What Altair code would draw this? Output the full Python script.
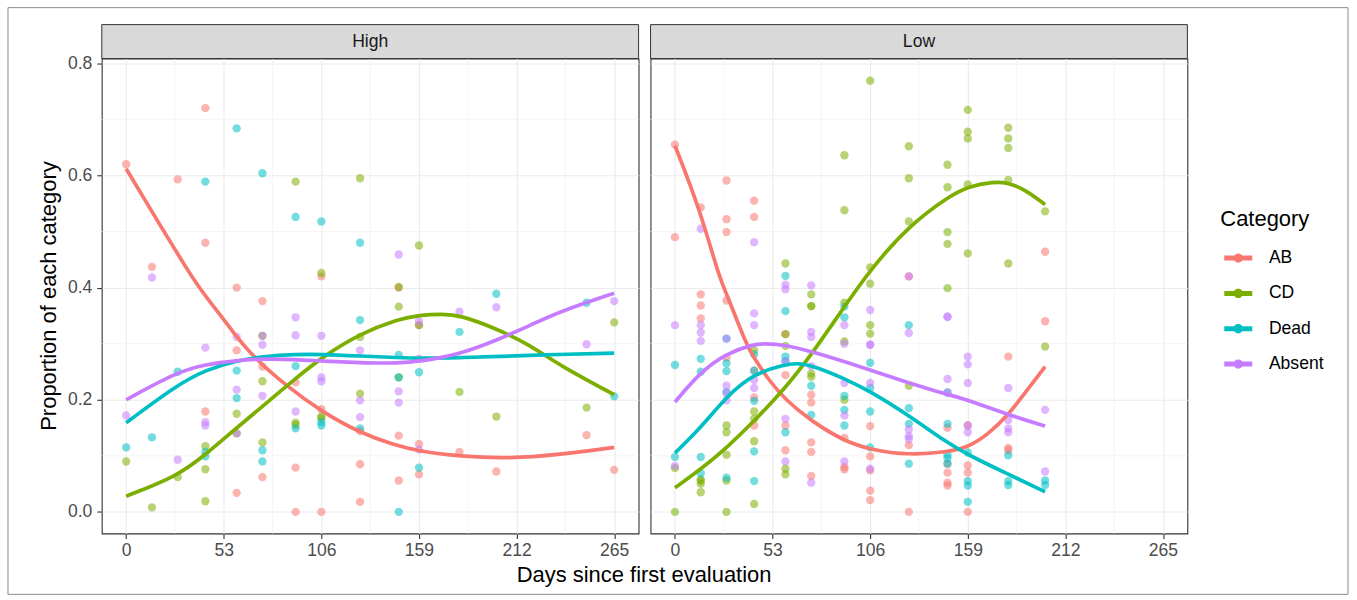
import altair as alt
import pandas as pd

FONT = "Liberation Sans"
CATEGORIES = ["AB", "CD", "Dead", "Absent"]
COLORS = ["#F8766D", "#7CAE00", "#00BFC4", "#C77CFF"]
PANELS = ["High", "Low"]
X_TICKS = [0, 53, 106, 159, 212, 265]
X_MINOR = [26.5, 79.5, 132.5, 185.5, 238.5]
Y_TICKS = [0.0, 0.2, 0.4, 0.6, 0.8]
Y_MINOR = [0.1, 0.3, 0.5, 0.7]
X_TITLE = "Days since first evaluation"
Y_TITLE = "Proportion of each category"
LEGEND_TITLE = "Category"

# ---- observed proportions (day, value) ----
HIGH_AB = [(0, 0.62), (14, 0.437), (28, 0.593), (43, 0.72), (43, 0.48), (43, 0.179),
           (60, 0.40), (60, 0.288), (60, 0.034), (74, 0.376), (74, 0.259), (74, 0.062),
           (92, 0.231), (92, 0.079), (92, 0.0), (106, 0.42), (106, 0.183), (106, 0.0),
           (127, 0.144), (127, 0.085), (127, 0.018), (148, 0.40), (148, 0.136), (148, 0.056),
           (159, 0.333), (159, 0.121), (159, 0.067), (181, 0.107), (201, 0.072), (250, 0.137), (265, 0.075)]
HIGH_CD = [(0, 0.09), (14, 0.008), (28, 0.062), (43, 0.117), (43, 0.076), (43, 0.019),
           (60, 0.175), (60, 0.14), (74, 0.314), (74, 0.233), (74, 0.124), (92, 0.589), (92, 0.159),
           (92, 0.155), (106, 0.426), (106, 0.17), (106, 0.167), (127, 0.595), (127, 0.312), (127, 0.211),
           (148, 0.401), (148, 0.366), (148, 0.24), (159, 0.475), (159, 0.333), (181, 0.214),
           (201, 0.17), (250, 0.186), (265, 0.338)]
HIGH_DEAD = [(0, 0.115), (14, 0.133), (28, 0.25), (43, 0.589), (43, 0.107), (43, 0.099),
             (60, 0.684), (60, 0.252), (60, 0.203), (74, 0.604), (74, 0.11), (74, 0.09),
             (92, 0.526), (92, 0.26), (92, 0.149), (106, 0.518), (106, 0.16), (106, 0.154),
             (127, 0.48), (127, 0.342), (127, 0.149), (148, 0.28), (148, 0.24), (148, 0.0),
             (159, 0.249), (159, 0.079), (181, 0.321), (201, 0.389), (250, 0.373), (265, 0.206)]
HIGH_ABSENT = [(0, 0.172), (14, 0.418), (28, 0.093), (43, 0.293), (43, 0.16), (43, 0.154),
               (60, 0.312), (60, 0.218), (60, 0.14), (74, 0.314), (74, 0.298), (74, 0.207),
               (92, 0.347), (92, 0.315), (92, 0.179), (106, 0.314), (106, 0.24), (106, 0.233),
               (127, 0.288), (127, 0.199), (127, 0.169), (148, 0.459), (148, 0.215), (148, 0.195),
               (159, 0.34), (159, 0.273), (159, 0.111), (181, 0.357), (201, 0.365), (250, 0.299), (265, 0.376)]

LOW_AB = [(0, 0.655), (0, 0.49), (14, 0.543), (14, 0.388), (14, 0.368), (14, 0.345),
          (28, 0.591), (28, 0.522), (28, 0.499), (28, 0.377), (28, 0.275),
          (43, 0.555), (43, 0.526), (43, 0.252), (43, 0.204), (43, 0.154),
          (60, 0.317), (60, 0.244), (60, 0.154), (60, 0.11),
          (74, 0.209), (74, 0.195), (74, 0.124), (74, 0.107), (74, 0.064),
          (92, 0.132), (92, 0.08), (92, 0.076),
          (106, 0.153), (106, 0.099), (106, 0.074), (106, 0.038), (106, 0.021),
          (127, 0.42), (127, 0.119), (127, 0.0),
          (148, 0.15), (148, 0.086), (148, 0.07), (148, 0.052), (148, 0.047),
          (159, 0.154), (159, 0.083), (159, 0.07), (159, 0.0),
          (181, 0.277), (181, 0.114), (181, 0.11), (201, 0.464), (201, 0.34)]
LOW_CD = [(0, 0.078), (0, 0.0), (14, 0.058), (14, 0.055), (14, 0.05), (14, 0.035),
          (28, 0.154), (28, 0.142), (28, 0.102), (28, 0.056), (28, 0.0),
          (43, 0.288), (43, 0.179), (43, 0.166), (43, 0.126), (43, 0.014),
          (60, 0.443), (60, 0.317), (60, 0.296), (60, 0.077), (60, 0.067),
          (74, 0.388), (74, 0.367), (74, 0.367), (74, 0.247), (74, 0.241),
          (92, 0.636), (92, 0.538), (92, 0.373), (92, 0.304), (92, 0.2),
          (106, 0.769), (106, 0.436), (106, 0.407), (106, 0.333), (106, 0.318),
          (127, 0.652), (127, 0.595), (127, 0.518), (127, 0.225),
          (148, 0.619), (148, 0.579), (148, 0.499), (148, 0.478), (148, 0.399),
          (159, 0.717), (159, 0.678), (159, 0.666), (159, 0.584), (159, 0.461),
          (181, 0.685), (181, 0.666), (181, 0.649), (181, 0.592), (181, 0.443),
          (201, 0.536), (201, 0.295)]
LOW_DEAD = [(0, 0.262), (0, 0.098), (14, 0.273), (14, 0.25), (14, 0.098), (14, 0.069),
            (28, 0.309), (28, 0.265), (28, 0.251), (28, 0.214), (28, 0.061),
            (43, 0.281), (43, 0.252), (43, 0.198), (43, 0.108), (43, 0.055),
            (60, 0.421), (60, 0.358), (60, 0.277), (60, 0.269), (60, 0.142),
            (74, 0.225), (74, 0.173),
            (92, 0.366), (92, 0.347), (92, 0.207), (92, 0.182), (92, 0.154),
            (106, 0.266), (106, 0.221), (106, 0.179), (106, 0.115),
            (127, 0.333), (127, 0.185), (127, 0.157), (127, 0.086),
            (148, 0.213), (148, 0.157), (148, 0.102), (148, 0.096), (148, 0.086),
            (159, 0.106), (159, 0.055), (159, 0.047), (159, 0.018),
            (181, 0.101), (181, 0.055), (181, 0.048), (201, 0.056), (201, 0.048)]
LOW_ABSENT = [(0, 0.333), (0, 0.082), (14, 0.505), (14, 0.333), (14, 0.32), (14, 0.305),
              (28, 0.309), (28, 0.225), (28, 0.212), (28, 0.199),
              (43, 0.481), (43, 0.354), (43, 0.333), (43, 0.235), (43, 0.221),
              (60, 0.405), (60, 0.397), (60, 0.268), (60, 0.166), (60, 0.09),
              (74, 0.404), (74, 0.321), (74, 0.312), (74, 0.26), (74, 0.052),
              (92, 0.333), (92, 0.3), (92, 0.23), (92, 0.172), (92, 0.09),
              (106, 0.36), (106, 0.298), (106, 0.298), (106, 0.23), (106, 0.077),
              (127, 0.42), (127, 0.319), (127, 0.147), (127, 0.135), (127, 0.13),
              (148, 0.348), (148, 0.348), (148, 0.237), (148, 0.213),
              (159, 0.277), (159, 0.263), (159, 0.23), (159, 0.154), (159, 0.142),
              (181, 0.221), (181, 0.164), (181, 0.149), (181, 0.142), (201, 0.182), (201, 0.072)]

# ---- smoothed trend curves (day, value) ----
HIGH_AB_FIT = [(0, 0.612), (37, 0.41), (43, 0.386), (60, 0.312), (69, 0.277), (86, 0.227),
               (106, 0.179), (127, 0.141), (145, 0.12), (159, 0.108), (181, 0.099), (208, 0.095),
               (235, 0.102), (265, 0.115)]
HIGH_CD_FIT = [(0, 0.028), (28, 0.064), (43, 0.102), (60, 0.15), (74, 0.188), (92, 0.238),
               (106, 0.275), (127, 0.318), (148, 0.344), (159, 0.351), (172, 0.353), (181, 0.351),
               (201, 0.327), (219, 0.298), (235, 0.262), (265, 0.209)]
HIGH_DEAD_FIT = [(0, 0.159), (28, 0.227), (43, 0.253), (60, 0.27), (74, 0.277), (92, 0.281),
                 (106, 0.281), (127, 0.278), (148, 0.275), (159, 0.274), (181, 0.275),
                 (201, 0.277), (235, 0.281), (265, 0.283)]
HIGH_ABSENT_FIT = [(0, 0.2), (28, 0.25), (43, 0.263), (60, 0.27), (74, 0.273), (92, 0.272),
                   (106, 0.269), (127, 0.266), (148, 0.265), (159, 0.268), (181, 0.281),
                   (201, 0.306), (219, 0.332), (235, 0.357), (265, 0.39)]
LOW_AB_FIT = [(0, 0.653), (13.5, 0.54), (24.3, 0.415), (28, 0.39), (38.8, 0.298), (43, 0.274),
              (51.4, 0.233), (60, 0.2), (74, 0.162), (92, 0.126), (106, 0.111), (127, 0.101),
              (148, 0.107), (159, 0.115), (170, 0.138), (181, 0.173), (190, 0.212), (201, 0.259)]
LOW_CD_FIT = [(0, 0.043), (14, 0.076), (28, 0.114), (43, 0.162), (60, 0.221), (74, 0.28),
              (92, 0.366), (106, 0.432), (127, 0.51), (148, 0.561), (159, 0.58), (173, 0.589),
              (181, 0.587), (190, 0.575), (201, 0.548)]
LOW_DEAD_FIT = [(0, 0.105), (14, 0.15), (28, 0.206), (43, 0.247), (60, 0.263), (66, 0.265),
                (74, 0.262), (92, 0.238), (106, 0.215), (127, 0.172), (148, 0.123), (159, 0.102),
                (181, 0.067), (201, 0.036)]
LOW_ABSENT_FIT = [(0, 0.196), (14, 0.25), (28, 0.283), (43, 0.299), (48, 0.3), (60, 0.298),
                  (74, 0.286), (92, 0.268), (106, 0.253), (127, 0.23), (148, 0.209), (159, 0.2),
                  (181, 0.173), (201, 0.153)]

POINT_SETS = {("High", "AB"): HIGH_AB, ("High", "CD"): HIGH_CD, ("High", "Dead"): HIGH_DEAD,
              ("High", "Absent"): HIGH_ABSENT, ("Low", "AB"): LOW_AB, ("Low", "CD"): LOW_CD,
              ("Low", "Dead"): LOW_DEAD, ("Low", "Absent"): LOW_ABSENT}
FIT_SETS = {("High", "AB"): HIGH_AB_FIT, ("High", "CD"): HIGH_CD_FIT, ("High", "Dead"): HIGH_DEAD_FIT,
            ("High", "Absent"): HIGH_ABSENT_FIT, ("Low", "AB"): LOW_AB_FIT, ("Low", "CD"): LOW_CD_FIT,
            ("Low", "Dead"): LOW_DEAD_FIT, ("Low", "Absent"): LOW_ABSENT_FIT}


def to_frame(sets):
    rows = []
    for (panel, cat), pairs in sets.items():
        for d, v in pairs:
            rows.append({"panel": panel, "Category": cat, "day": d, "value": v})
    return pd.DataFrame(rows)


points_df = to_frame(POINT_SETS)
fits_df = to_frame(FIT_SETS)

PW, PH = 538, 476
XS = alt.Scale(domain=[-13.25, 278.25], nice=False, zero=False)
YS = alt.Scale(domain=[-0.0385, 0.8085], nice=False, zero=False)
CS = alt.Scale(domain=CATEGORIES, range=COLORS)

# legend key: thick line segment with a dot in the middle (same winding so no hole)
SYMBOL = ("M-1.62,-0.29L1.62,-0.29L1.62,0.29L-1.62,0.29Z "
          "M-0.54,0A0.54,0.54,0,1,1,0.54,0A0.54,0.54,0,1,1,-0.54,0Z")
LEG = alt.Legend(title=LEGEND_TITLE, orient="none", legendX=1121, legendY=151,
                 titleFontSize=22, titleFont=FONT, titleFontWeight="normal", titleColor="black",
                 labelFontSize=17.6, labelFont=FONT, labelColor="black",
                 symbolType=SYMBOL, symbolSize=300, symbolStrokeWidth=0, symbolOpacity=1,
                 symbolOffset=9, labelOffset=21.7, rowPadding=17.4, titlePadding=18, padding=0)


def make_panel(name, first):
    common = dict(grid=True, gridColor="#EBEBEB", gridWidth=1.1, domain=False, title=None,
                  labelFont=FONT, labelFontSize=17.6, labelColor="#4D4D4D",
                  tickColor="#333333", tickSize=5, tickWidth=1.1)
    xax = alt.Axis(values=X_TICKS, labelPadding=3, **common)
    if first:
        yax = alt.Axis(values=Y_TICKS, format=".1f", labelPadding=5, **common)
    else:
        yax = alt.Axis(values=Y_TICKS, labels=False, ticks=False, **{k: v for k, v in common.items()
                                                                     if k not in ("tickColor", "tickSize", "tickWidth")})
    X = lambda f: alt.X(f, scale=XS, axis=xax)
    Y = lambda f: alt.Y(f, scale=YS, axis=yax)

    minor_x = alt.Chart(pd.DataFrame({"m": X_MINOR})).mark_rule(
        color="#F0F0F0", strokeWidth=0.7).encode(x=X("m:Q"))
    minor_y = alt.Chart(pd.DataFrame({"m": Y_MINOR})).mark_rule(
        color="#F0F0F0", strokeWidth=0.7).encode(y=Y("m:Q"))
    pts = alt.Chart(points_df[points_df.panel == name]).mark_circle(size=70, opacity=0.55).encode(
        x=X("day:Q"), y=Y("value:Q"), color=alt.Color("Category:N", scale=CS, legend=LEG))
    lines = alt.Chart(fits_df[fits_df.panel == name]).mark_line(strokeWidth=3.7, interpolate="basis").encode(
        x=X("day:Q"), y=Y("value:Q"), color=alt.Color("Category:N", scale=CS, legend=LEG))
    strip_df = pd.DataFrame({"label": [name]})
    strip = alt.Chart(strip_df).mark_rect(fill="#D9D9D9", stroke="#333333", strokeWidth=1).encode(
        x=alt.value(0), x2=alt.value(PW), y=alt.value(-34), y2=alt.value(0))
    strip_text = alt.Chart(strip_df).mark_text(fontSize=17.6, font=FONT, color="#1A1A1A").encode(
        x=alt.value(PW / 2), y=alt.value(-17), text="label:N")
    layers = [minor_x, minor_y, pts, lines, strip, strip_text]
    if first:
        frame_df = pd.DataFrame({"t": [X_TITLE], "u": [Y_TITLE]})
        border = alt.Chart(frame_df).mark_rect(filled=False, color="#8C8C8C", strokeWidth=1).encode(
            x=alt.value(-94), x2=alt.value(1249), y=alt.value(-51), y2=alt.value(537))
        xt = alt.Chart(frame_df).mark_text(fontSize=22, font=FONT, color="black").encode(
            x=alt.value(543.5), y=alt.value(518), text="t:N")
        yt = alt.Chart(frame_df).mark_text(fontSize=22, font=FONT, color="black", angle=270).encode(
            x=alt.value(-53), y=alt.value(238), text="u:N")
        layers += [border, xt, yt]
    return alt.layer(*layers).properties(width=PW, height=PH)


chart = alt.hconcat(make_panel("High", True), make_panel("Low", False), spacing=12, bounds="flush").properties(
    padding={"left": 6, "right": 7, "top": 5, "bottom": 6}, background="white"
).configure(font=FONT).configure_view(stroke="#333333", strokeWidth=1.1)

chart.save("out.html", embed_options={"renderer": "svg", "actions": False})
